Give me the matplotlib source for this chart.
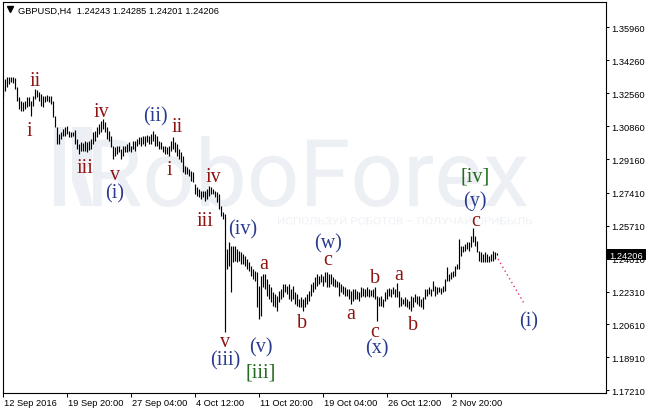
import matplotlib
matplotlib.use("Agg")
import matplotlib.pyplot as plt
import matplotlib.transforms as mtransforms
from matplotlib.textpath import TextPath
from matplotlib.patches import PathPatch, Rectangle, Polygon
from matplotlib.font_manager import FontProperties
from matplotlib.path import Path
from matplotlib.lines import Line2D

plt.rcParams['font.family'] = ['Liberation Sans', 'DejaVu Sans']

# ---------------- data ----------------
symbol = "GBPUSD,H4"
quote_ohlc = [1.24243, 1.24285, 1.24201, 1.24206]

bar_high = [
    1.3293, 1.3329, 1.3339, 1.3339, 1.3339, 1.3339, 1.3334, 1.3287, 1.3236, 1.3215,
    1.3210, 1.3215, 1.3236, 1.3236, 1.3215, 1.3241, 1.3277, 1.3272, 1.3262, 1.3251,
    1.3241, 1.3241, 1.3246, 1.3241, 1.3241, 1.3215, 1.3138, 1.3081, 1.3045, 1.3055,
    1.3071, 1.3081, 1.3086, 1.3060, 1.3055, 1.3055, 1.3065, 1.3019, 1.2993, 1.3003,
    1.2998, 1.3009, 1.3003, 1.3009, 1.3019, 1.3055, 1.3060, 1.3081, 1.3096, 1.3112,
    1.3122, 1.3107, 1.3081, 1.3060, 1.3034, 1.2983, 1.2978, 1.2983, 1.2983, 1.2967,
    1.2983, 1.2983, 1.2993, 1.3003, 1.2983, 1.3009, 1.3009, 1.3019, 1.3029, 1.3029,
    1.3034, 1.3034, 1.3040, 1.3034, 1.3045, 1.3060, 1.3045, 1.3034, 1.3009, 1.3003,
    1.2983, 1.2983, 1.2978, 1.2983, 1.3009, 1.3029, 1.3003, 1.2993, 1.2967, 1.2952,
    1.2931, 1.2879, 1.2874, 1.2864, 1.2854, 1.2848, 1.2786, 1.2771, 1.2761, 1.2750,
    1.2750, 1.2750, 1.2761, 1.2776, 1.2771, 1.2761, 1.2750, 1.2745, 1.2735, 1.2673,
    1.2642, 1.2631, 1.2451, 1.2487, 1.2466, 1.2466, 1.2466, 1.2451, 1.2440, 1.2435,
    1.2425, 1.2415, 1.2399, 1.2384, 1.2363, 1.2347, 1.2337, 1.2332, 1.2260, 1.2311,
    1.2322, 1.2322, 1.2296, 1.2270, 1.2254, 1.2229, 1.2218, 1.2208, 1.2234, 1.2244,
    1.2270, 1.2270, 1.2260, 1.2270, 1.2244, 1.2260, 1.2229, 1.2218, 1.2193, 1.2203,
    1.2193, 1.2203, 1.2218, 1.2234, 1.2270, 1.2280, 1.2306, 1.2322, 1.2311, 1.2322,
    1.2311, 1.2332, 1.2332, 1.2322, 1.2322, 1.2306, 1.2296, 1.2285, 1.2280, 1.2270,
    1.2260, 1.2254, 1.2244, 1.2244, 1.2234, 1.2244, 1.2244, 1.2234, 1.2229, 1.2254,
    1.2249, 1.2244, 1.2254, 1.2244, 1.2239, 1.2244, 1.2254, 1.2208, 1.2203, 1.2208,
    1.2193, 1.2229, 1.2244, 1.2249, 1.2244, 1.2254, 1.2244, 1.2275, 1.2234, 1.2203,
    1.2193, 1.2203, 1.2193, 1.2182, 1.2208, 1.2203, 1.2218, 1.2208, 1.2208, 1.2193,
    1.2203, 1.2244, 1.2244, 1.2254, 1.2244, 1.2285, 1.2260, 1.2254, 1.2254, 1.2249,
    1.2260, 1.2296, 1.2358, 1.2322, 1.2332, 1.2337, 1.2363, 1.2373, 1.2502, 1.2466,
    1.2466, 1.2477, 1.2487, 1.2487, 1.2518, 1.2559, 1.2518, 1.2492, 1.2440, 1.2435,
    1.2425, 1.2435, 1.2425, 1.2415, 1.2425, 1.2440, 1.2435, 1.24285,
]
bar_low = [
    1.3236, 1.3267, 1.3287, 1.3303, 1.3313, 1.3308, 1.3277, 1.3215, 1.3174, 1.3164,
    1.3164, 1.3174, 1.3184, 1.3189, 1.3138, 1.3189, 1.3226, 1.3236, 1.3215, 1.3189,
    1.3184, 1.3210, 1.3215, 1.3210, 1.3200, 1.3133, 1.3081, 1.2993, 1.2993, 1.3019,
    1.3034, 1.3034, 1.3045, 1.3029, 1.3029, 1.3034, 1.2993, 1.2967, 1.2941, 1.2957,
    1.2957, 1.2957, 1.2952, 1.2962, 1.2967, 1.2993, 1.3009, 1.3029, 1.3045, 1.3055,
    1.3071, 1.3055, 1.3019, 1.3009, 1.2978, 1.2916, 1.2931, 1.2941, 1.2952, 1.2916,
    1.2931, 1.2952, 1.2952, 1.2957, 1.2952, 1.2967, 1.2957, 1.2983, 1.2993, 1.2983,
    1.2993, 1.2983, 1.3003, 1.2993, 1.2993, 1.3009, 1.2983, 1.2983, 1.2967, 1.2967,
    1.2952, 1.2941, 1.2941, 1.2931, 1.2957, 1.2967, 1.2952, 1.2931, 1.2916, 1.2900,
    1.2848, 1.2838, 1.2838, 1.2828, 1.2802, 1.2797, 1.2735, 1.2724, 1.2719, 1.2709,
    1.2719, 1.2699, 1.2709, 1.2724, 1.2735, 1.2735, 1.2719, 1.2693, 1.2657, 1.2621,
    1.2606, 1.2022, 1.2347, 1.2363, 1.2229, 1.2384, 1.2389, 1.2384, 1.2389, 1.2373,
    1.2373, 1.2363, 1.2347, 1.2337, 1.2311, 1.2296, 1.2285, 1.2151, 1.2089, 1.2105,
    1.2254, 1.2244, 1.2208, 1.2193, 1.2177, 1.2156, 1.2151, 1.2131, 1.2177, 1.2193,
    1.2203, 1.2229, 1.2218, 1.2193, 1.2182, 1.2193, 1.2167, 1.2156, 1.2151, 1.2151,
    1.2131, 1.2151, 1.2167, 1.2182, 1.2208, 1.2229, 1.2244, 1.2260, 1.2270, 1.2280,
    1.2260, 1.2280, 1.2254, 1.2254, 1.2270, 1.2260, 1.2254, 1.2254, 1.2208, 1.2229,
    1.2218, 1.2208, 1.2208, 1.2193, 1.2167, 1.2182, 1.2193, 1.2193, 1.2182, 1.2203,
    1.2208, 1.2203, 1.2208, 1.2203, 1.2208, 1.2203, 1.2193, 1.2079, 1.2156, 1.2156,
    1.2151, 1.2182, 1.2193, 1.2208, 1.2203, 1.2218, 1.2203, 1.2203, 1.2151, 1.2156,
    1.2167, 1.2156, 1.2151, 1.2141, 1.2131, 1.2151, 1.2177, 1.2167, 1.2156, 1.2151,
    1.2141, 1.2193, 1.2208, 1.2218, 1.2208, 1.2234, 1.2208, 1.2218, 1.2229, 1.2218,
    1.2229, 1.2234, 1.2285, 1.2285, 1.2296, 1.2306, 1.2311, 1.2347, 1.2347, 1.2415,
    1.2435, 1.2440, 1.2451, 1.2440, 1.2461, 1.2487, 1.2466, 1.2435, 1.2389, 1.2384,
    1.2384, 1.2384, 1.2384, 1.2384, 1.2389, 1.2389, 1.2399, 1.24201,
]

date_tick_bars = [0, 32, 64, 96, 128, 160, 192, 224]
date_labels = ["12 Sep 2016", "19 Sep 20:00", "27 Sep 04:00", "4 Oct 12:00",
               "11 Oct 20:00", "19 Oct 04:00", "26 Oct 12:00", "2 Nov 20:00"]
price_ticks = [1.35960, 1.34260, 1.32560, 1.30860, 1.29160, 1.27410,
               1.25710, 1.24010, 1.22310, 1.20610, 1.18910, 1.17210]

proj_bars = [247.5, 261]
proj_prices = [1.2399, 1.2162]

red_labels = [("ii", 16, 1.3298), ("i", 13, 1.3040), ("iv", 49, 1.3138),
              ("ii", 87, 1.3060), ("iii", 41, 1.2848), ("v", 56, 1.2812),
              ("i", 83, 1.2838), ("iv", 105, 1.2802), ("iii", 101, 1.2575),
              ("a", 130.5, 1.2353), ("v", 111, 1.1950), ("b", 149.5, 1.2048),
              ("c", 162.5, 1.2373), ("a", 174, 1.2094), ("b", 186, 1.2280),
              ("c", 186, 1.1999), ("a", 198, 1.2296), ("b", 205, 1.2038),
              ("c", 236.5, 1.2575)]
blue_labels = [("(ii)", 76, 1.3117), ("(i)", 56, 1.2719), ("(iv)", 120, 1.2533),
               ("(iii)", 111, 1.1852), ("(v)", 129, 1.1919), ("(w)", 162.5, 1.2456),
               ("(x)", 187, 1.1914), ("(y)", 236, 1.2678), ("(i)", 263, 1.2058)]
green_labels = [("[iii]", 129, 1.1790), ("[iv]", 236, 1.2802)]

# ---------------- layout ----------------
W, H = 646, 414
def fx(px):
    return px / W
def fy(py):
    return 1 - py / H

P0, PPX = 1.3742, 0.0005165      # price at pixel row 0, price per pixel
AX_L, AX_R, AX_T, AX_B = 2.5, 606.0, 2.5, 394.0

fig = plt.figure(figsize=(W / 100, H / 100), dpi=100)
fig.patch.set_facecolor('white')
ax = fig.add_axes([fx(AX_L), fy(AX_B), fx(AX_R) - fx(AX_L), fy(AX_T) - fy(AX_B)])
ax.set_facecolor('none')

# ---- watermark ----
def text_path_in_box(text, family, x0, x1, ytop, ybot):
    tp = TextPath((0, 0), text, size=100, prop=FontProperties(family=family))
    ext = tp.get_extents()
    v = tp.vertices.copy()
    sx = (x1 - x0) / ext.width
    sy = (ybot - ytop) / ext.height
    px = x0 + (v[:, 0] - ext.x0) * sx
    py = ybot - (v[:, 1] - ext.y0) * sy
    v[:, 0] = px / W
    v[:, 1] = 1 - py / H
    return Path(v, tp.codes)

wm_color = '#ECEFF3'
fig.add_artist(PathPatch(text_path_in_box("RoboForex", "Roboto", 93, 527, 137, 208),
                         transform=fig.transFigure, facecolor=wm_color,
                         edgecolor='none', zorder=-2))
fig.add_artist(PathPatch(text_path_in_box("ИСПОЛЬЗУЙ РОБОТОВ – ПОЛУЧАЙ ПРИБЫЛЬ", "Roboto",
                                          278, 532, 216.5, 225.5),
                         transform=fig.transFigure, facecolor='#EFF1F5',
                         edgecolor='none', zorder=-2))
fig.add_artist(Rectangle((fx(54), fy(207)), fx(11), 79 / H, transform=fig.transFigure,
                         facecolor=wm_color, edgecolor='none', zorder=-2))
logo_pts = [(72, 128), (92, 128), (92, 166), (84, 171), (93, 207), (81, 207), (72, 182)]
fig.add_artist(Polygon([(fx(a), fy(b)) for a, b in logo_pts], closed=True,
                       transform=fig.transFigure, facecolor=wm_color,
                       edgecolor='none', zorder=-2))

# ---- bars ----
idx = list(range(len(bar_high)))
ax.vlines(idx, bar_low, bar_high, colors='black', linewidth=0.85, zorder=3)

# ---- projection ----
ax.plot(proj_bars, proj_prices, color='#E23A5E', linewidth=1.0,
        linestyle=(0, (1, 2.2)), zorder=3)

# ---- wave labels ----
lab_font = dict(family=['Liberation Serif', 'DejaVu Serif'], fontsize=14.5,
                ha='center', va='baseline', zorder=4)
for s, x, y in red_labels:
    ax.text(x, y, s, color='#8E1414', **lab_font)
for s, x, y in blue_labels:
    ax.text(x, y, s, color='#293B8E', **lab_font)
for s, x, y in green_labels:
    ax.text(x, y, s, color='#236B1F', **lab_font)

# ---- axes limits / spines ----
ax.set_xlim((AX_L - 3) / 2, (AX_R - 3) / 2)
ax.set_ylim(P0 - PPX * AX_B, P0 - PPX * AX_T)
for sp in ax.spines.values():
    sp.set_linewidth(0.8)
    sp.set_color('black')

ax.yaxis.tick_right()
ax.set_yticks(price_ticks)
ax.set_yticklabels([])
ax.tick_params(axis='y', direction='out', length=2.3, width=0.75, right=True, left=False)
ax.set_xticks(date_tick_bars)
ax.set_xticklabels([])
ax.tick_params(axis='x', direction='out', length=3.0, width=0.75)

tick_fs = 6.7
ytrans = mtransforms.offset_copy(
    mtransforms.blended_transform_factory(fig.transFigure, ax.transData),
    fig=fig, x=0, y=-3.6, units='dots')
for p in price_ticks:
    ax.text(fx(611.5), p, f"{p:.5f}", transform=ytrans, fontsize=tick_fs,
            ha='left', va='baseline', clip_on=False)

xtrans = mtransforms.blended_transform_factory(ax.transData, fig.transFigure)
for b, s in zip(date_tick_bars, date_labels):
    ax.text(b + 0.6, fy(406.3), s, transform=xtrans, fontsize=tick_fs,
            ha='left', va='baseline', clip_on=False)

# ---- current price box ----
cur = quote_ohlc[3]
cur_py = (P0 - cur) / PPX
fig.add_artist(Rectangle((fx(606.5), fy(cur_py + 5.6)), fx(39.5), 11.2 / H,
                         transform=fig.transFigure, facecolor='black',
                         edgecolor='none', zorder=5))
fig.text(fx(609.5), fy(cur_py + 3.6), f"{cur:.5f}", color='white', fontsize=tick_fs,
         ha='left', va='baseline', zorder=6)

# ---- header ----
fig.add_artist(Line2D([fx(10)], [fy(10.3)], marker='v', markersize=4.2,
                      color='black', linestyle='none', transform=fig.transFigure))
header = symbol + "  " + " ".join(f"{v:.5f}" for v in quote_ohlc)
fig.text(fx(18), fy(14), header, fontsize=tick_fs, ha='left', va='baseline')

fig.savefig("out.png", dpi=100, facecolor='white')
